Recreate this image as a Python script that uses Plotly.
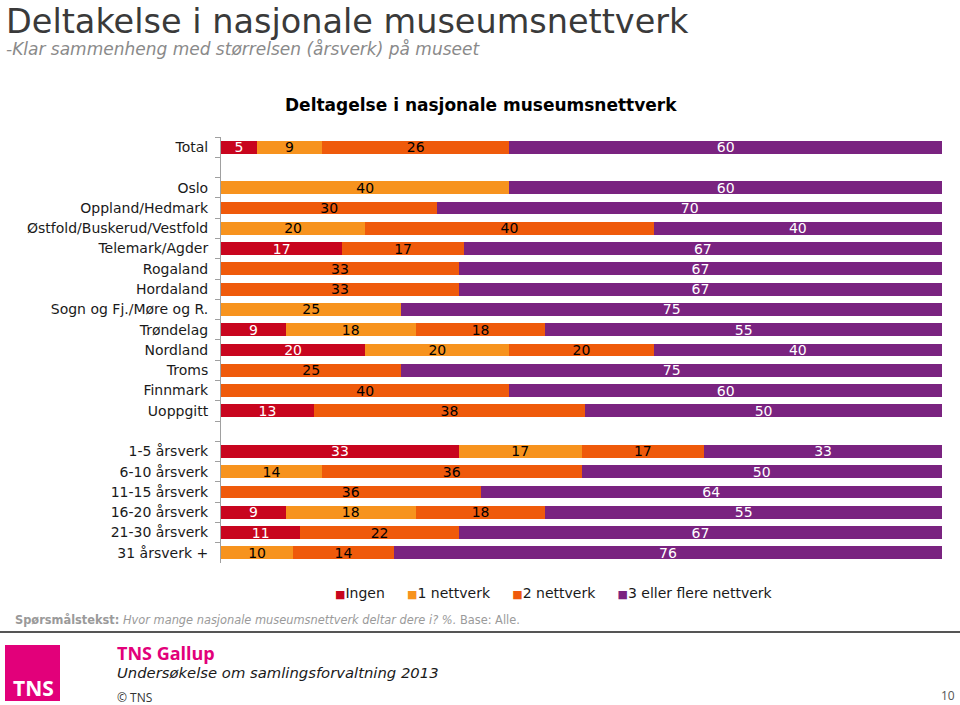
import plotly.graph_objects as go

# ---------------- data ----------------
categories = ["Total", " ", "Oslo", "Oppland/Hedmark", "Østfold/Buskerud/Vestfold",
              "Telemark/Agder", "Rogaland", "Hordaland", "Sogn og Fj./Møre og R.",
              "Trøndelag", "Nordland", "Troms", "Finnmark", "Uoppgitt", "  ",
              "1-5 årsverk", "6-10 årsverk", "11-15 årsverk", "16-20 årsverk",
              "21-30 årsverk", "31 årsverk +"]
series_names = ["Ingen", "1 nettverk", "2 nettverk", "3 eller flere nettverk"]
ingen = [5, None, None, None, None, 17, None, None, None, 9, 20, None, None, 13, None,
         33, None, None, 9, 11, None]
nett1 = [9, None, 40, None, 20, None, None, None, 25, 18, 20, None, None, None, None,
         17, 14, None, 18, None, 10]
nett2 = [26, None, None, 30, 40, 17, 33, 33, None, 18, 20, 25, 40, 38, None,
         17, 36, 36, 18, 22, 14]
nett3 = [60, None, 60, 70, 40, 67, 67, 67, 75, 55, 40, 75, 60, 50, None,
         33, 50, 64, 55, 67, 76]

title = "Deltakelse i nasjonale museumsnettverk"
subtitle = "-Klar sammenheng med størrelsen (årsverk) på museet"
chart_title = "Deltagelse i nasjonale museumsnettverk"

# ---------------- style ----------------
colors = ["#C8051E", "#F7931E", "#EF5A0B", "#7A2380"]
text_colors = ["white", "black", "black", "white"]
FONT = "DejaVu Sans"

W, H = 960, 705
L, R, T, B = 221, 18, 137, 142
PW, PH = W - L - R, H - T - B


def px(x):
    return (x - L) / PW


def py(y):
    return (H - B - y) / PH


fig = go.Figure()
for name, vals, col, tcol in zip(series_names, [ingen, nett1, nett2, nett3], colors, text_colors):
    fig.add_trace(go.Bar(
        y=categories, x=vals, name=name, orientation="h",
        marker=dict(color=col, line=dict(width=0)),
        text=[("" if v is None else str(v)) for v in vals],
        texttemplate="%{text}",
        textposition="inside", insidetextanchor="middle", textangle=0,
        constraintext="none",
        insidetextfont=dict(family=FONT, size=14, color=tcol),
        showlegend=False,
    ))

fig.update_layout(
    width=W, height=H,
    margin=dict(l=L, r=R, t=T, b=B, pad=0),
    barmode="stack", barnorm="percent", bargap=0.36,
    paper_bgcolor="white", plot_bgcolor="white",
    font=dict(family=FONT, size=14, color="#1a1a1a"),
    xaxis=dict(range=[0, 100], visible=False, fixedrange=True),
    yaxis=dict(categoryorder="array", categoryarray=categories, autorange="reversed",
               tickson="boundaries", ticks="outside", ticklen=5, tickcolor="#a0a0a0",
               showline=True, linecolor="#a0a0a0", linewidth=1, showgrid=False,
               tickfont=dict(family=FONT, size=14, color="#1a1a1a"),
               ticklabelstandoff=9),
)

ann = []
ann.append(dict(text='<span style="font-size:33.5px;color:#3a3a3a">' + title + '</span><br><i>'
                + subtitle + '</i>',
                x=px(4), y=py(0), xref="paper", yref="paper",
                xanchor="left", yanchor="top", align="left", showarrow=False,
                font=dict(family=FONT, size=17, color="#8a8a8a")))
ann.append(dict(text="<b>" + chart_title + "</b>", x=px(481), y=py(105), xref="paper",
                yref="paper", xanchor="center", yanchor="middle", showarrow=False,
                font=dict(family=FONT, size=17, color="#000000")))

legend_txt = "&nbsp;&nbsp;&nbsp;&nbsp;&nbsp;".join(
    '<span style="color:%s;font-size:11px">■</span>%s' % (c, n)
    for c, n in zip(colors, series_names))
ann.append(dict(text=legend_txt, x=px(554), y=py(593), xref="paper", yref="paper",
                xanchor="center", yanchor="middle", showarrow=False,
                font=dict(family=FONT, size=14, color="#1a1a1a")))

ann.append(dict(text="<b>Spørsmålstekst:</b> <i>Hvor mange nasjonale museumsnettverk deltar dere i? %.</i> Base: Alle.",
                x=px(13), y=py(620), xref="paper", yref="paper",
                xanchor="left", yanchor="middle", showarrow=False,
                font=dict(family=FONT, size=11.4, color="#9a9a9a")))

ann.append(dict(text="<b>TNS Gallup</b>", x=px(115), y=py(653), xref="paper", yref="paper",
                xanchor="left", yanchor="middle", showarrow=False,
                font=dict(family="Open Sans", size=18, color="#E2007A")))
ann.append(dict(text="<i>Undersøkelse om samlingsforvaltning 2013</i>", x=px(115), y=py(672),
                xref="paper", yref="paper", xanchor="left", yanchor="middle", showarrow=False,
                font=dict(family=FONT, size=14.8, color="#1a1a1a")))
ann.append(dict(text="© TNS", x=px(115), y=py(697), xref="paper", yref="paper",
                xanchor="left", yanchor="middle", showarrow=False,
                font=dict(family="Open Sans", size=12, color="#333333")))
ann.append(dict(text="10", x=px(957), y=py(695), xref="paper", yref="paper",
                xanchor="right", yanchor="middle", showarrow=False,
                font=dict(family="Open Sans", size=12, color="#555555")))
ann.append(dict(text="<b>TNS</b>", x=px(33), y=py(688), xref="paper", yref="paper",
                xanchor="center", yanchor="middle", showarrow=False,
                font=dict(family="Open Sans", size=21, color="white")))

fig.update_layout(annotations=ann)

fig.add_shape(type="line", xref="paper", yref="paper", x0=px(0), x1=px(960),
              y0=py(632), y1=py(632), line=dict(color="#555555", width=2))
fig.add_shape(type="rect", xref="paper", yref="paper", x0=px(5), x1=px(60),
              y0=py(645), y1=py(701), fillcolor="#E2007A", line=dict(width=0), layer="below")

fig.write_html("out.html")
